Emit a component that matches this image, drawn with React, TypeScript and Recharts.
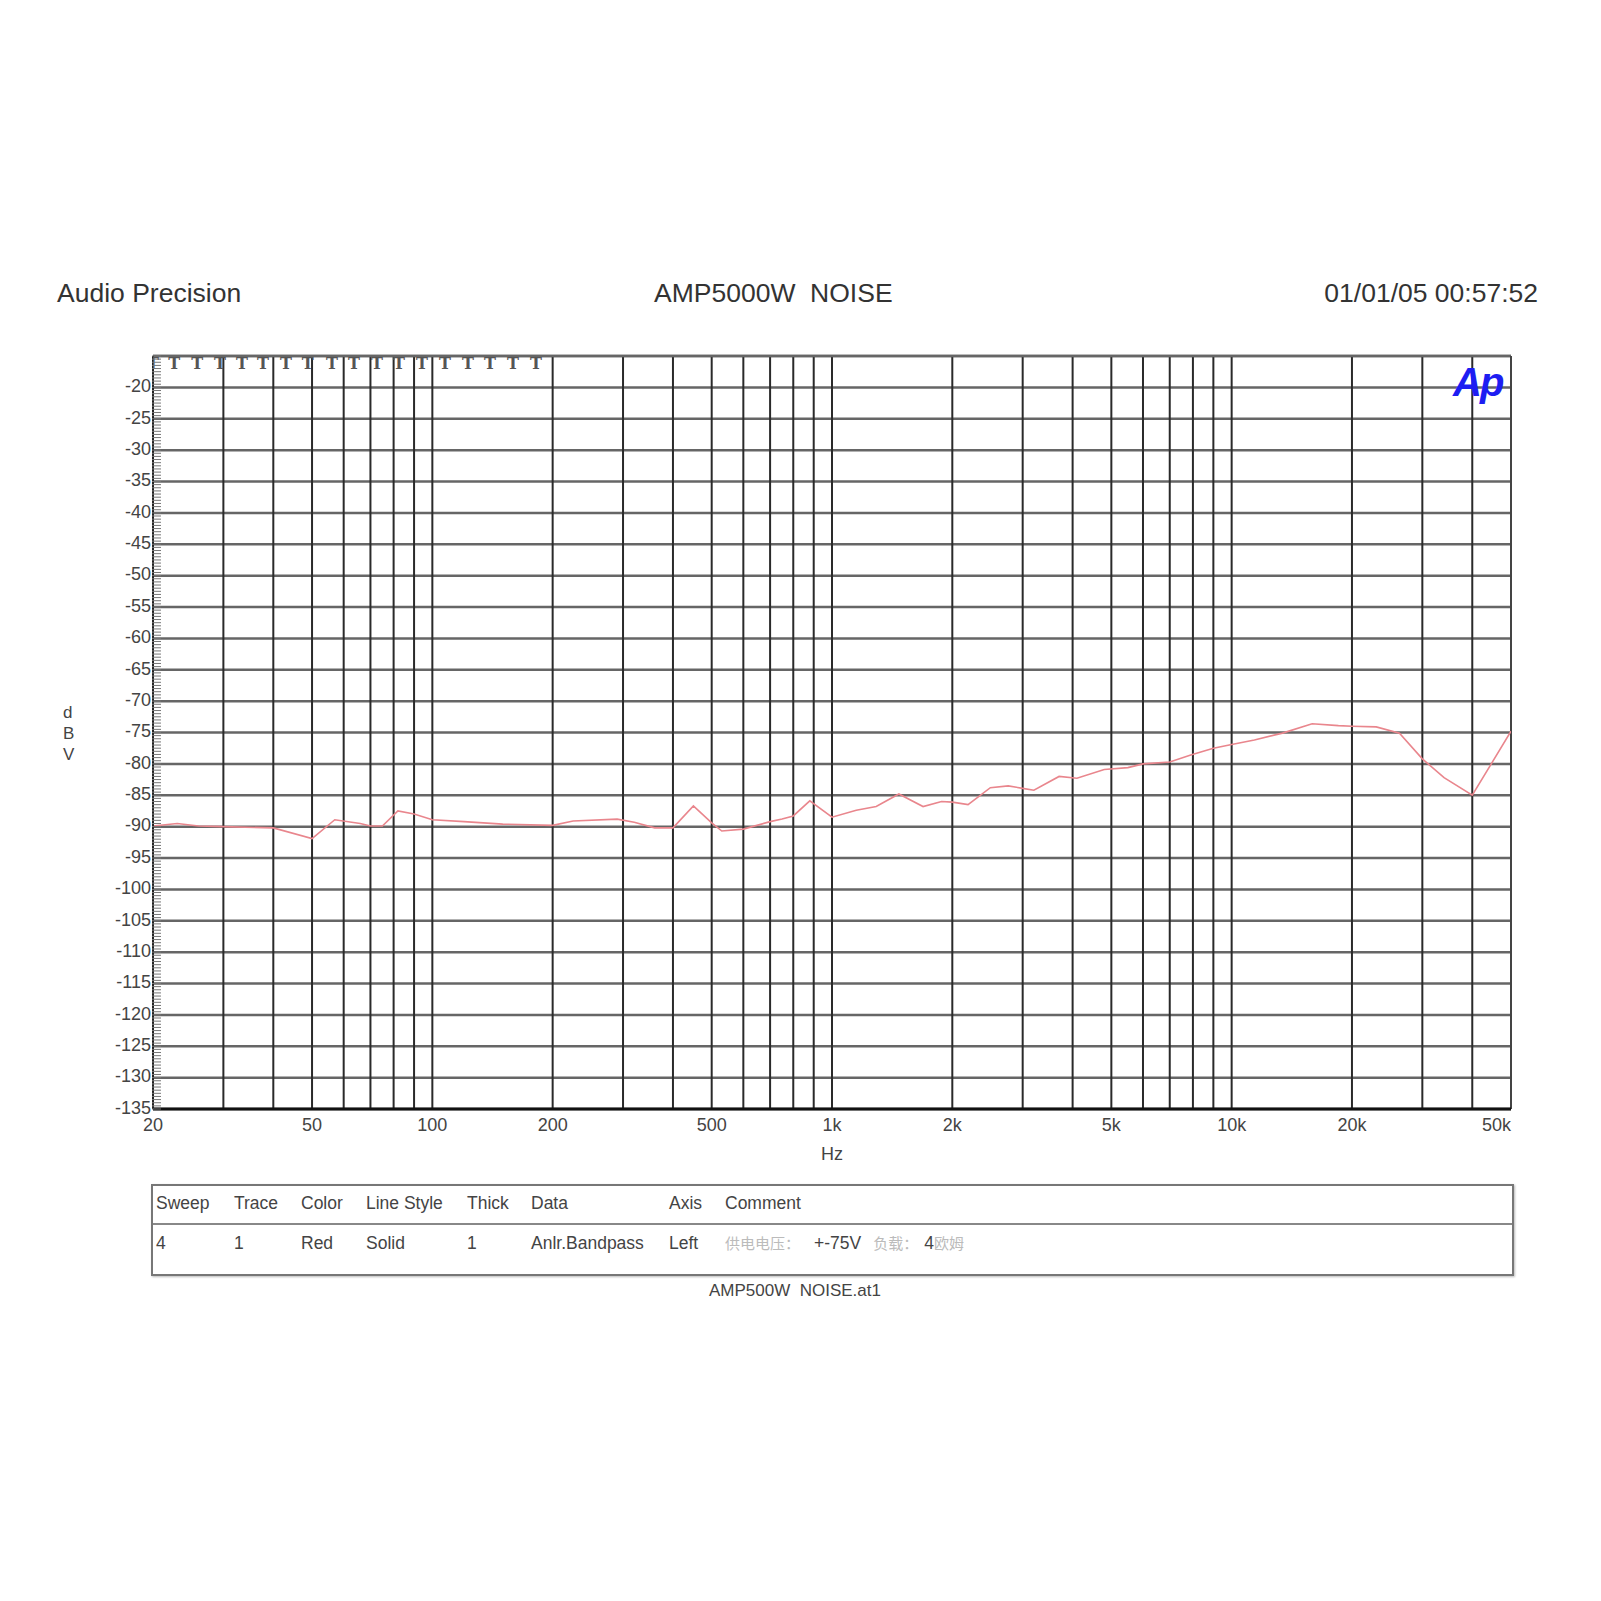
import {
  CartesianGrid,
  ComposedChart,
  Line,
  ReferenceLine,
  Scatter,
  XAxis,
  YAxis,
} from "recharts";

// measured sweep: frequency (Hz) and level (dBV)
const FREQ = [
  20, 23, 26, 30, 40, 50, 57, 66, 70, 75, 82, 90, 100, 120, 150, 200, 225, 290,
  320, 360, 400, 450, 500, 530, 600, 700, 750, 800, 880, 1000, 1150, 1290, 1470,
  1690, 1880, 2000, 2190, 2490, 2760, 3000, 3200, 3700, 4100, 4800, 5500, 6000,
  7000, 7900, 9000, 10000, 11400, 13400, 15900, 18500, 20000, 23000, 26300,
  30000, 34000, 40000, 50000,
];
const DBV = [
  -89.9, -89.5, -89.9, -90.0, -90.2, -91.9, -88.9, -89.5, -89.9, -89.9, -87.5,
  -88.0, -88.9, -89.2, -89.6, -89.8, -89.1, -88.8, -89.3, -90.2, -90.2, -86.7,
  -89.4, -90.7, -90.4, -89.2, -88.8, -88.3, -85.9, -88.5, -87.4, -86.8, -84.8,
  -86.8, -86.0, -86.1, -86.5, -83.8, -83.5, -83.9, -84.2, -82.0, -82.3, -80.9,
  -80.6, -80.0, -79.7, -78.6, -77.5, -76.9, -76.2, -75.1, -73.6, -73.9, -74.0,
  -74.1, -75.1, -79.2, -82.2, -85.0, -74.8,
];

// "T" markers along the top edge
const T_FREQ = [
  20, 22.6, 25.8, 29.4, 33.4, 37.7, 43.0, 48.8, 56.1, 63.7, 72.7, 82.5, 94.2,
  107.5, 122.8, 139.4, 159.1, 181.7,
];

const X_GRID = [
  20, 30, 40, 50, 60, 70, 80, 90, 100, 200, 300, 400, 500, 600, 700, 800, 900,
  1000, 2000, 3000, 4000, 5000, 6000, 7000, 8000, 9000, 10000, 20000, 30000,
  40000, 50000,
];
const X_LABEL_FREQ = [20, 50, 100, 200, 500, 1000, 2000, 5000, 10000, 20000, 50000];
const X_LABEL_TEXT = ["20", "50", "100", "200", "500", "1k", "2k", "5k", "10k", "20k", "50k"];

const Y_GRID = [
  -135, -130, -125, -120, -115, -110, -105, -100, -95, -90, -85, -80, -75, -70,
  -65, -60, -55, -50, -45, -40, -35, -30, -25, -20, -15,
];
const Y_MINOR = Array.from({ length: 241 }, (_, i) => -135 + i * 0.5);

const LEGEND_HEAD = ["Sweep", "Trace", "Color", "Line Style", "Thick", "Data", "Axis", "Comment"];
const LEGEND_ROW = ["4", "1", "Red", "Solid", "1", "Anlr.Bandpass", "Left"];
const LEGEND_COLS = [156, 234, 301, 366, 467, 531, 669, 725];

const data = FREQ.map((f, i) => ({ f, v: DBV[i] }));
const markers = T_FREQ.map((f) => ({ f, v: -15 }));

const FONT = '"Liberation Sans", Arial, sans-serif';
const INK = "#333";
const RED = "#e9868d";

function XTick({ x, y, payload }: any) {
  const i = X_LABEL_FREQ.indexOf(payload.value);
  if (i < 0) return <g />;
  const last = i === X_LABEL_FREQ.length - 1;
  return (
    <text
      x={x}
      y={y + 17}
      textAnchor={last ? "end" : "middle"}
      dominantBaseline="middle"
      fontFamily={FONT}
      fontSize={18}
      fill="#444"
    >
      {X_LABEL_TEXT[i]}
    </text>
  );
}

function YTick({ x, y, payload }: any) {
  if (payload.value === -15) return <g />;
  return (
    <text
      x={x - 2}
      y={y}
      textAnchor="end"
      dominantBaseline="middle"
      fontFamily={FONT}
      fontSize={18}
      fill="#444"
    >
      {payload.value}
    </text>
  );
}

function MinorTick({ x, y }: any) {
  return <line x1={x} x2={x + 9} y1={y} y2={y} stroke="#777" strokeWidth={1} />;
}

function TMark({ cx, cy }: any) {
  return (
    <text
      x={cx}
      y={cy + 1}
      textAnchor="middle"
      dominantBaseline="hanging"
      fontFamily='"DejaVu Serif", serif'
      fontWeight={700}
      fontSize={16}
      fill="#555"
    >
      T
    </text>
  );
}

const text = (style: React.CSSProperties): React.CSSProperties => ({
  position: "absolute",
  fontFamily: FONT,
  color: INK,
  whiteSpace: "nowrap",
  lineHeight: 1,
  ...style,
});

export default function App() {
  return (
    <div
      style={{
        position: "absolute",
        left: 0,
        top: 0,
        width: 1601,
        height: 1601,
        background: "#fff",
        overflow: "hidden",
      }}
    >
      <ComposedChart
        width={1601}
        height={1601}
        data={data}
        margin={{ top: 356, right: 90, bottom: 491, left: 151 }}
      >
        <CartesianGrid yAxisId="main" vertical={false} stroke="#666" strokeWidth={2.5} />
        <CartesianGrid yAxisId="main" horizontal={false} stroke="#2a2a2a" strokeWidth={2} />
        <XAxis
          dataKey="f"
          type="number"
          scale="log"
          domain={[20, 50000]}
          ticks={X_GRID}
          interval={0}
          allowDataOverflow
          height={1}
          tickSize={0}
          tickMargin={0}
          tickLine={false}
          axisLine={{ stroke: "#111", strokeWidth: 3 }}
          tick={<XTick />}
        />
        <YAxis
          yAxisId="main"
          type="number"
          domain={[-135, -15]}
          ticks={Y_GRID}
          interval={0}
          allowDataOverflow
          width={1}
          tickSize={0}
          tickMargin={0}
          tickLine={false}
          axisLine={{ stroke: "#222", strokeWidth: 2 }}
          tick={<YTick />}
        />
        <YAxis
          yAxisId="minor"
          type="number"
          domain={[-135, -15]}
          ticks={Y_MINOR}
          interval={0}
          allowDataOverflow
          width={1}
          tickSize={0}
          tickMargin={0}
          tickLine={false}
          axisLine={false}
          tick={<MinorTick />}
        />
        <ReferenceLine yAxisId="main" y={-15} stroke="#666" strokeWidth={2.5} />
        <ReferenceLine yAxisId="main" x={50000} stroke="#444" strokeWidth={2} />
        <Line
          yAxisId="main"
          dataKey="v"
          type="linear"
          stroke={RED}
          strokeWidth={1.6}
          dot={false}
          isAnimationActive={false}
        />
        <Scatter
          yAxisId="main"
          data={markers}
          dataKey="v"
          shape={<TMark />}
          isAnimationActive={false}
        />
      </ComposedChart>

      {/* header */}
      <div style={text({ left: 57, top: 280, fontSize: 26.5 })}>Audio Precision</div>
      <div style={text({ left: 654, top: 280, fontSize: 26.5 })}>AMP5000W&nbsp;&nbsp;NOISE</div>
      <div style={text({ right: 63, top: 280, fontSize: 26.5 })}>01/01/05 00:57:52</div>

      {/* Ap logo */}
      <div
        style={text({
          left: 1453,
          top: 362,
          fontSize: 40,
          fontWeight: 700,
          fontStyle: "italic",
          color: "#1d1df2",
          letterSpacing: -2,
        })}
      >
        Ap
      </div>

      {/* axis titles */}
      {["d", "B", "V"].map((c, i) => (
        <div key={c} style={text({ left: 63, top: 704 + i * 21, fontSize: 17, color: "#444" })}>
          {c}
        </div>
      ))}
      <div style={text({ left: 821, top: 1145, fontSize: 18, color: "#444" })}>Hz</div>

      {/* legend table */}
      <div
        style={{
          position: "absolute",
          left: 151,
          top: 1184,
          width: 1359,
          height: 88,
          border: "2px solid #777",
          boxShadow: "1px 1px 2px #bbb",
        }}
      >
        <div
          style={{
            position: "absolute",
            left: 0,
            right: 0,
            top: 37,
            borderTop: "2px solid #888",
          }}
        />
      </div>
      {LEGEND_HEAD.map((h, i) => (
        <div key={h} style={text({ left: LEGEND_COLS[i], top: 1195, fontSize: 17.5, color: "#444" })}>
          {h}
        </div>
      ))}
      {LEGEND_ROW.map((h, i) => (
        <div key={i} style={text({ left: LEGEND_COLS[i], top: 1235, fontSize: 17.5, color: "#444" })}>
          {h}
        </div>
      ))}
      <div style={text({ left: LEGEND_COLS[7], top: 1235, fontSize: 17.5, color: "#444" })}>
        <span style={{ fontFamily: '"Noto Sans CJK SC"', fontSize: 15, color: "#bbb" }}>供电电压：</span>
        <span style={{ marginLeft: 14 }}>+-75V</span>
        <span style={{ fontFamily: '"Noto Sans CJK SC"', fontSize: 15, color: "#bbb", marginLeft: 12 }}>
          负载：
        </span>
        <span style={{ marginLeft: 6 }}>4</span>
        <span style={{ fontFamily: '"Noto Sans CJK SC"', fontSize: 15, color: "#bbb" }}>欧姆</span>
      </div>

      <div style={text({ left: 709, top: 1282, fontSize: 17, color: "#444" })}>
        AMP500W&nbsp;&nbsp;NOISE.at1
      </div>
    </div>
  );
}
